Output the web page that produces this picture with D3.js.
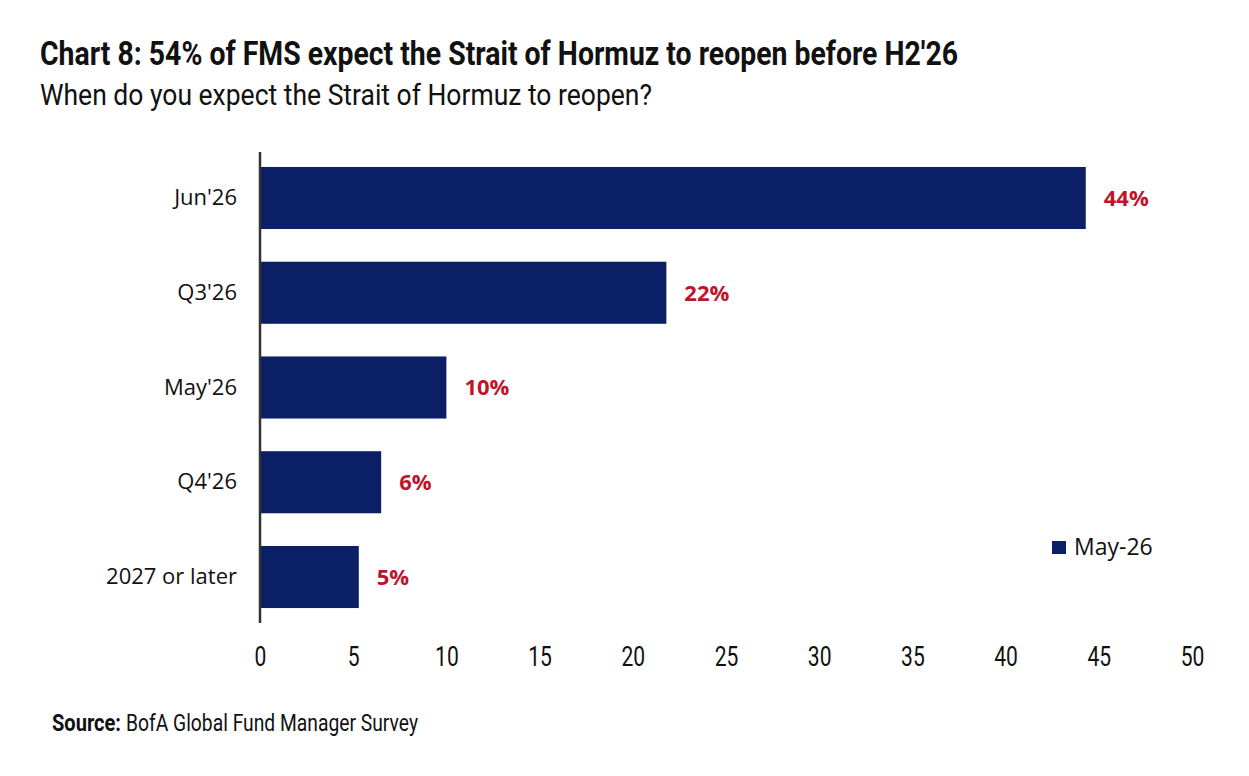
<!DOCTYPE html>
<html>
<head>
<meta charset="utf-8">
<script src="https://cdn.jsdelivr.net/npm/d3@7/dist/d3.min.js"></script>
<style>
  html, body { margin: 0; padding: 0; background: #fff; }
  svg { display: block; }
</style>
</head>
<body>
<svg id="chart" width="1249" height="776"></svg>
<script>
// ---- data ----
const categories = ["Jun'26", "Q3'26", "May'26", "Q4'26", "2027 or later"];
const values = [44.3, 21.8, 10.0, 6.5, 5.3];
const valueLabels = ["44%", "22%", "10%", "6%", "5%"];
const xTicks = [0, 5, 10, 15, 20, 25, 30, 35, 40, 45, 50];
const seriesName = "May-26";
const titleText = "Chart 8: 54% of FMS expect the Strait of Hormuz to reopen before H2'26";
const subtitleText = "When do you expect the Strait of Hormuz to reopen?";
const sourceBold = "Source:";
const sourceRest = "BofA Global Fund Manager Survey";

const NAVY = "#0b1f66";
const RED = "#c0142a";

const svg = d3.select("#chart");

// title & subtitle
svg.append("text")
  .attr("x", 40).attr("y", 65)
  .attr("font-family", "Roboto, 'Open Sans', sans-serif")
  .attr("font-weight", 700)
  .attr("font-size", 33)
  .attr("fill", "#111")
  .attr("textLength", 918)
  .attr("lengthAdjust", "spacingAndGlyphs")
  .text(titleText);

svg.append("text")
  .attr("x", 40).attr("y", 105)
  .attr("font-family", "Roboto, 'Open Sans', sans-serif")
  .attr("font-weight", 400)
  .attr("font-size", 30)
  .attr("fill", "#111")
  .attr("textLength", 612)
  .attr("lengthAdjust", "spacingAndGlyphs")
  .text(subtitleText);

// scales
const x = d3.scaleLinear().domain([0, 50]).range([260, 1192]);
const y = d3.scaleBand().domain(categories).range([152, 623])
  .paddingInner(0.345).paddingOuter(0.158);

// bars
svg.append("g").selectAll("rect")
  .data(categories)
  .join("rect")
  .attr("x", x(0))
  .attr("y", d => y(d))
  .attr("width", (d, i) => x(values[i]) - x(0))
  .attr("height", y.bandwidth())
  .attr("fill", NAVY);

// value labels
svg.append("g").selectAll("text")
  .data(categories)
  .join("text")
  .attr("x", (d, i) => x(values[i]) + 18)
  .attr("y", d => y(d) + y.bandwidth() / 2)
  .attr("dy", "0.36em")
  .attr("font-family", "'Open Sans', sans-serif")
  .attr("font-weight", 700)
  .attr("font-size", 22)
  .attr("fill", RED)
  .text((d, i) => valueLabels[i]);

// y axis (categories)
const yAxis = svg.append("g")
  .attr("transform", `translate(${x(0)},0)`)
  .call(d3.axisLeft(y).tickSize(0).tickPadding(23));
yAxis.select(".domain").remove();
yAxis.append("line")
  .attr("x1", 0).attr("x2", 0)
  .attr("y1", 152).attr("y2", 623)
  .attr("stroke", "#333").attr("stroke-width", 2.5);
yAxis.selectAll(".tick text")
  .attr("font-family", "'Open Sans', sans-serif")
  .attr("font-size", 22)
  .attr("fill", "#111");

// x axis (tick labels only)
const xAxis = svg.append("g")
  .attr("transform", "translate(0,647)")
  .call(d3.axisBottom(x).tickValues(xTicks).tickSize(0).tickPadding(0).tickFormat(d3.format("d")));
xAxis.select(".domain").remove();
xAxis.selectAll(".tick text")
  .attr("font-family", "Roboto, sans-serif")
  .attr("font-size", 27)
  .attr("fill", "#111")
  .attr("transform", "scale(0.78,1)");

// legend
const lg = svg.append("g").attr("transform", "translate(1052,541)");
lg.append("rect").attr("width", 14).attr("height", 13).attr("fill", NAVY);
lg.append("text")
  .attr("x", 22).attr("y", 14)
  .attr("font-family", "'Open Sans', sans-serif")
  .attr("font-size", 23)
  .attr("fill", "#111")
  .text(seriesName);

// source
svg.append("text")
  .attr("x", 52).attr("y", 731)
  .attr("font-family", "Roboto, sans-serif")
  .attr("font-size", 23)
  .attr("font-weight", 700)
  .attr("fill", "#111")
  .attr("textLength", 69)
  .attr("lengthAdjust", "spacingAndGlyphs")
  .text(sourceBold);
svg.append("text")
  .attr("x", 126).attr("y", 731)
  .attr("font-family", "Roboto, sans-serif")
  .attr("font-size", 23)
  .attr("fill", "#111")
  .attr("textLength", 292)
  .attr("lengthAdjust", "spacingAndGlyphs")
  .text(sourceRest);
</script>
</body>
</html>
